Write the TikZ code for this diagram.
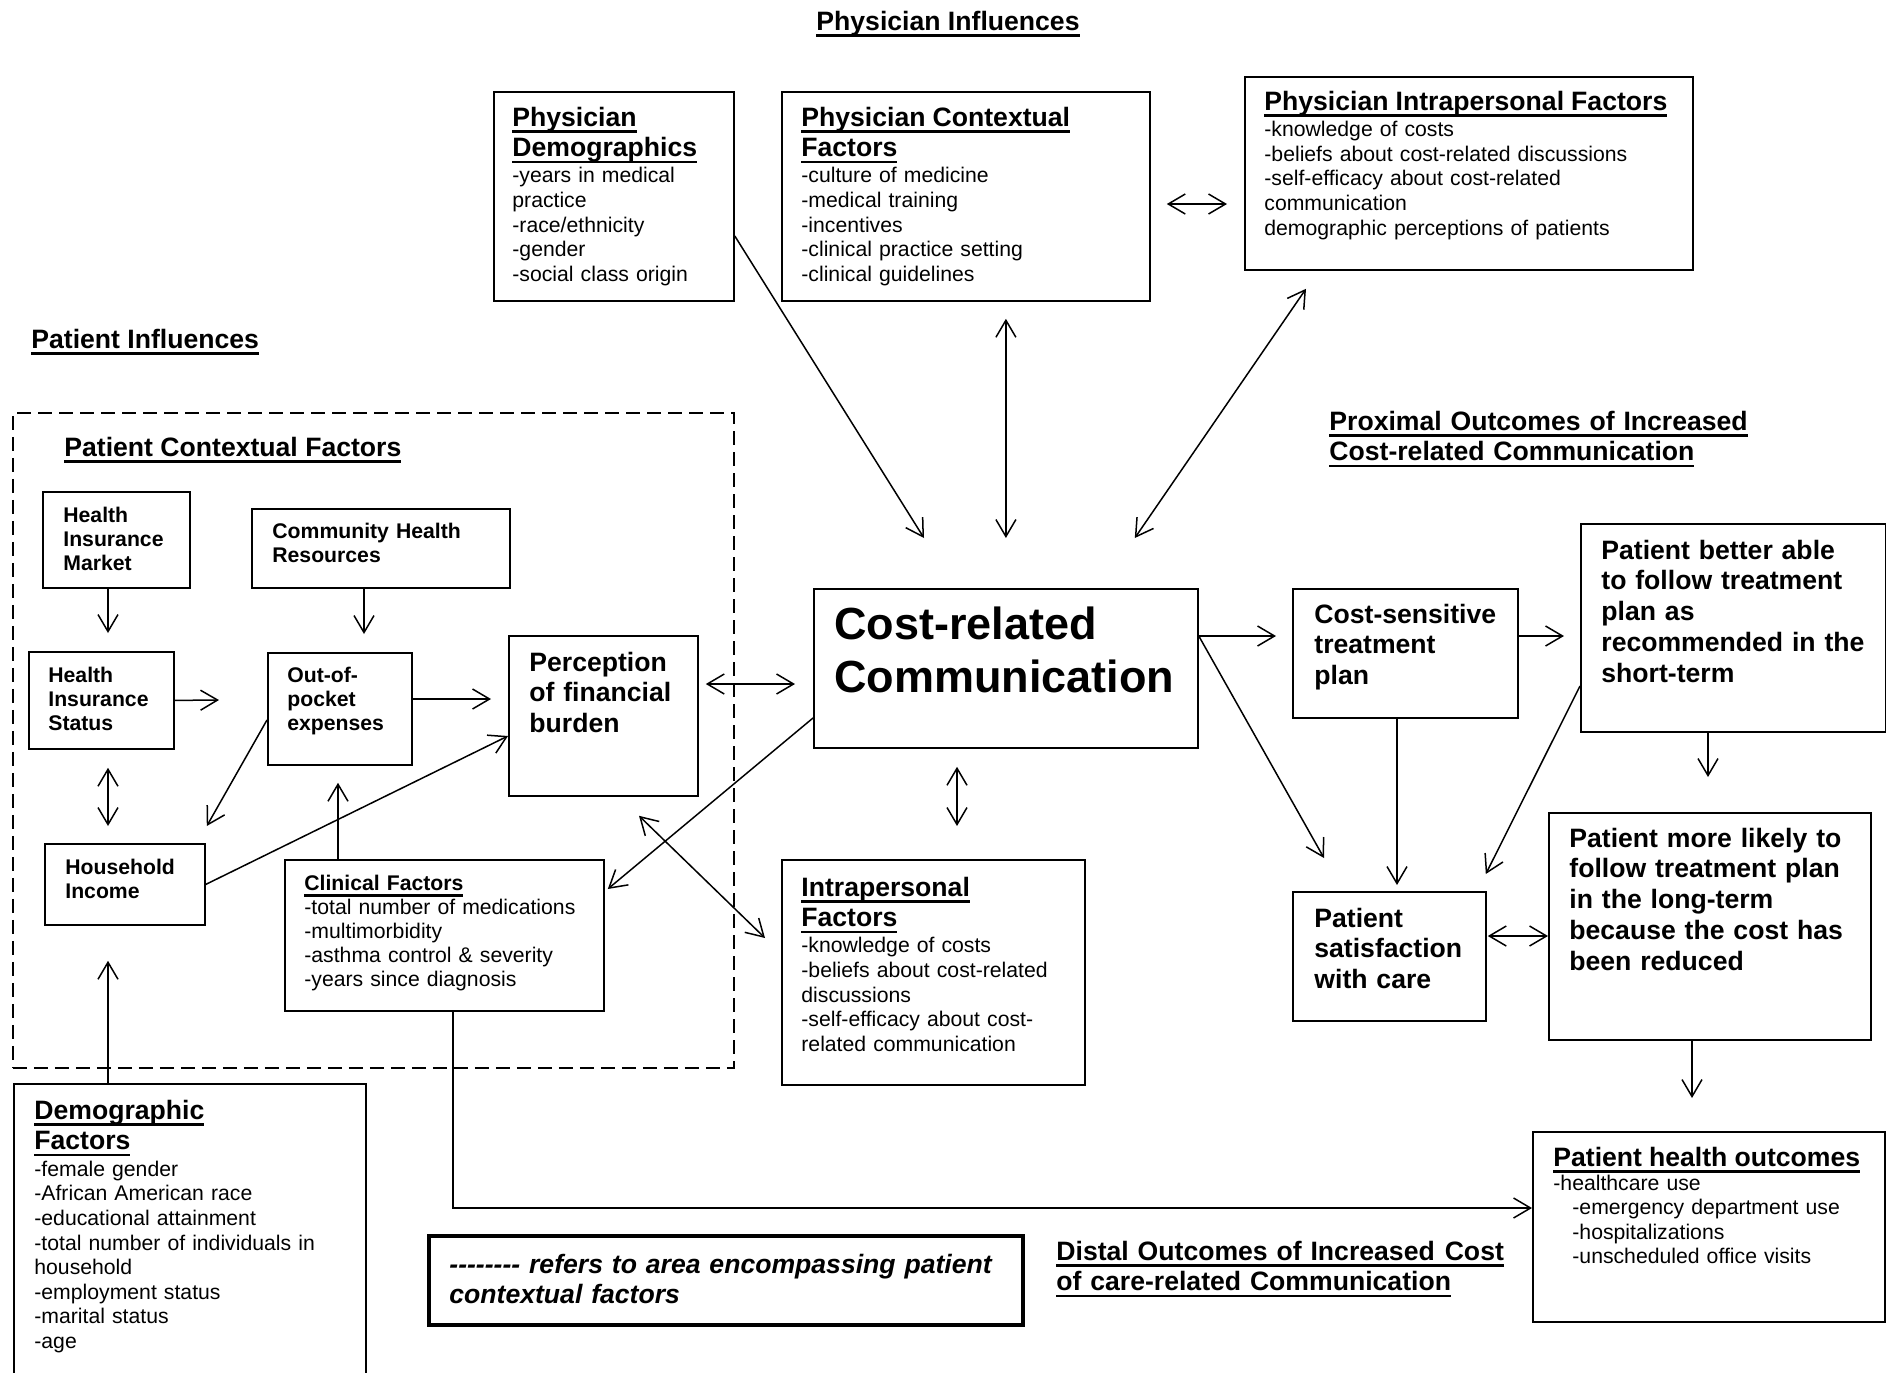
\documentclass[tikz,border=0pt]{standalone}
\usepackage{fontspec}
\setmainfont{Liberation Sans}
\usetikzlibrary{arrows.meta,calc}
\newsavebox\ulbox
\newcommand\ulin[1]{\leavevmode\sbox\ulbox{#1}\rlap{\rule[-3.4pt]{\wd\ulbox}{1.2pt}}\usebox\ulbox}
\newcommand\hdfnt{\fontsize{13.3}{15.1}\selectfont\bfseries}
\newcommand\bdfnt{\fontsize{10.6}{12.3}\selectfont}
\newcommand\sbfnt{\fontsize{10.6}{12.2}\selectfont\bfseries}
\newcommand\lbfnt{\fontsize{13.3}{15.4}\selectfont\bfseries}
\newcommand\crcfnt{\fontsize{22.5}{26.8}\selectfont\bfseries}
\begin{document}
\begin{tikzpicture}[x=0.5pt,y=-0.5pt,
    box/.style={draw, line width=0.9pt, anchor=north west, inner sep=0pt},
    txt/.style={anchor=base west, inner sep=0pt, align=left},
    arr/.style={-{Straight Barb[length=8.5pt,width=10pt]}, line width=0.75pt},
    dbl/.style={{Straight Barb[length=8.5pt,width=10pt]}-{Straight Barb[length=8.5pt,width=10pt]}, line width=0.75pt}]
    \clip (0,0) rectangle (1886,1372);

    % physician influences
    \node[anchor=base, inner sep=0pt, font=\hdfnt] (phinf) at (948,30) {\ulin{Physician Influences}};
    \node[box, minimum width=120pt, minimum height=104.5pt] (pdem) at (493,91) {};
    \node[txt, text width=108pt, font=\bdfnt] (pdem-t) at (512,126)
        {{\hdfnt\ulin{Physician}\\\ulin{Demographics}\par}\vspace{1pt}-years in medical\\practice\\-race/ethnicity\\-gender\\-social class origin};
    \node[box, minimum width=184pt, minimum height=104.5pt] (pcf) at (781,91) {};
    \node[txt, text width=172pt, font=\bdfnt] (pcf-t) at (801,126)
        {{\hdfnt\ulin{Physician Contextual}\\\ulin{Factors}\par}\vspace{1pt}-culture of medicine\\-medical training\\-incentives\\-clinical practice setting\\-clinical guidelines};
    \node[box, minimum width=224pt, minimum height=96.5pt] (pif) at (1244,76) {};
    \node[txt, text width=212pt, font=\bdfnt] (pif-t) at (1264,110)
        {{\hdfnt\ulin{Physician Intrapersonal Factors}\par}\vspace{1.05pt}-knowledge of costs\\-beliefs about cost-related discussions\\-self-efficacy about cost-related\\communication\\demographic perceptions of patients};

    % patient influences
    \node[txt, font=\hdfnt] (patinf) at (31,348) {\ulin{Patient Influences}};
    \node[box, dash pattern=on 7pt off 3.5pt, line width=0.75pt, minimum width=360.5pt, minimum height=327.5pt] (ctx) at (12,412) {};
    \node[txt, font=\hdfnt] (ctx-t) at (64,456) {\ulin{Patient Contextual Factors}};
    \node[box, minimum width=73.5pt, minimum height=48pt] (him) at (42,491) {};
    \node[txt, text width=61pt, font=\sbfnt] (him-t) at (63,522) {Health\\Insurance\\Market};
    \node[box, minimum width=129pt, minimum height=39.5pt] (chr) at (251,508) {};
    \node[txt, text width=116pt, font=\sbfnt] (chr-t) at (272,538) {Community Health\\Resources};
    \node[box, minimum width=72.5pt, minimum height=48.5pt] (his) at (28,651) {};
    \node[txt, text width=60pt, font=\sbfnt] (his-t) at (48,682) {Health\\Insurance\\Status};
    \node[box, minimum width=72pt, minimum height=56pt] (oop) at (267,652) {};
    \node[txt, text width=59pt, font=\sbfnt] (oop-t) at (287,682) {Out-of-\\pocket\\expenses};
    \node[box, minimum width=94.5pt, minimum height=80pt] (pfb) at (508,635) {};
    \node[txt, text width=81pt, font=\lbfnt] (pfb-t) at (529,671) {Perception\\of financial\\burden};
    \node[box, minimum width=80pt, minimum height=40.5pt] (hhi) at (44,843) {};
    \node[txt, text width=67pt, font=\sbfnt] (hhi-t) at (65,874) {Household\\Income};
    \node[box, minimum width=159.5pt, minimum height=75.5pt] (clin) at (284,859) {};
    \node[txt, text width=147pt, font=\fontsize{10.6}{12.1}\selectfont] (clin-t) at (304,890)
        {\textbf{\ulin{Clinical Factors}}\\-total number of medications\\-multimorbidity\\-asthma control \& severity\\-years since diagnosis};
    \node[box, minimum width=176pt, minimum height=160pt] (dem) at (13,1083) {};
    \node[txt, text width=163pt, font=\bdfnt] (dem-t) at (34,1119)
        {{\hdfnt\ulin{Demographic}\\\ulin{Factors}\par}\vspace{1.2pt}-female gender\\-African American race\\-educational attainment\\-total number of individuals in\\household\\-employment status\\-marital status\\-age};

    % centre
    \node[box, minimum width=192pt, minimum height=79.5pt] (crc) at (813,588) {};
    \node[txt, text width=180pt, font=\crcfnt] (crc-t) at (834,639) {Cost-related\\Communication};
    \node[box, minimum width=151.5pt, minimum height=112.5pt] (intra) at (781,859) {};
    \node[txt, text width=139pt, font=\bdfnt] (intra-t) at (801,896)
        {{\hdfnt\ulin{Intrapersonal}\\\ulin{Factors}\par}\vspace{1pt}-knowledge of costs\\-beliefs about cost-related\\discussions\\-self-efficacy about cost-\\related communication};

    % outcomes
    \node[txt, text width=250pt, font=\hdfnt] (prox) at (1329,430) {\ulin{Proximal Outcomes of Increased}\\\ulin{Cost-related Communication}};
    \node[box, minimum width=112.5pt, minimum height=64.5pt] (cst) at (1292,588) {};
    \node[txt, text width=100pt, font=\lbfnt] (cst-t) at (1314,623) {Cost-sensitive\\treatment\\plan};
    \node[box, minimum width=152.5pt, minimum height=104pt] (pba) at (1580,523) {};
    \node[txt, text width=140pt, font=\lbfnt] (pba-t) at (1601,559) {Patient better able\\to follow treatment\\plan as\\recommended in the\\short-term};
    \node[box, minimum width=96.5pt, minimum height=64.5pt] (psat) at (1292,891) {};
    \node[txt, text width=84pt, font=\lbfnt] (psat-t) at (1314,927) {Patient\\satisfaction\\with care};
    \node[box, minimum width=161pt, minimum height=113.5pt] (pml) at (1548,812) {};
    \node[txt, text width=148pt, font=\lbfnt] (pml-t) at (1569,847) {Patient more likely to\\follow treatment plan\\in the long-term\\because the cost has\\been reduced};
    \node[box, minimum width=176pt, minimum height=95pt] (pho) at (1532,1131) {};
    \node[txt, text width=163pt, font=\fontsize{10.6}{12.2}\selectfont] (pho-t) at (1553,1166)
        {{\hdfnt\ulin{Patient health outcomes}}\\-healthcare use\\\hspace*{9.5pt}-emergency department use\\\hspace*{9.5pt}-hospitalizations\\\hspace*{9.5pt}-unscheduled office visits};
    \node[txt, text width=250pt, font=\hdfnt] (distal) at (1056,1260) {\ulin{Distal Outcomes of Increased\hspace{5pt}Cost}\\\ulin{of care-related Communication}};

    % legend
    \node[box, line width=2pt, minimum width=297pt, minimum height=44.5pt] (leg) at (427,1234) {};
    \node[txt, text width=284pt, font=\hdfnt\itshape] (leg-t) at (449,1273) {-{}-{}-{}-{}-{}-{}-{}- refers to area encompassing patient\\contextual factors};

    % physician arrows
    \draw[arr] ($(pdem.north east)+(0,145)$) -- ($(crc.north west)+(111,-50)$);
    \draw[dbl] ($(crc.north |- pcf.south)+(0,17)$) -- ($(crc.north)+(0,-50)$);
    \draw[dbl] ($(pif.south west)+(62,18)$) -- ($(crc.north east)+(-64,-50)$);
    \draw[dbl] ($(pcf.north east)+(16,113)$) -- ($(pif.north west)+(-17,128)$);

    % patient arrows
    \draw[arr] ($(him.south west)+(66,0)$) -- ($(his.north west)+(80,-18)$);
    \draw[arr] ($(chr.south west)+(113,0)$) -- ($(oop.north west)+(97,-18)$);
    \draw[arr] (his.east) -- ($(oop.north west)+(-48,48)$);
    \draw[arr] ($(oop.north east)+(0,47)$) -- ($(pfb.north west)+(-17,64)$);
    \draw[dbl] ($(his.south west)+(80,18)$) -- ($(hhi.north west)+(64,-17)$);
    \draw[arr] ($(oop.north west)+(0,68)$) -- ($(hhi.north east)+(1,-17)$);
    \draw[arr] (hhi.east) -- ($(pfb.north west)+(0,101)$);
    \draw[arr] ($(clin.north west)+(54,0)$) -- ($(oop.south west)+(71,17)$);
    \draw[dbl] ($(pfb.north east)+(7,49)$) -- ($(crc.north west)+(-18,96)$);
    \draw[arr] ($(crc.north west)+(0,130)$) -- ($(clin.north east)+(3,30)$);
    \draw[dbl] ($(pfb.south west)+(131,19)$) -- ($(intra.north west)+(-16,79)$);
    \draw[dbl] ($(crc.south west)+(144,18)$) -- ($(intra.north west)+(176,-33)$);
    \draw[arr] ($(dem.north west)+(95,0)$) -- ($(hhi.south west)+(64,35)$);
    \draw[arr] ($(clin.south west)+(169,0)$) |- ($(pho.north west)+(0,77)$);

    % outcome arrows
    \draw[arr] ($(crc.north east)+(0,48)$) -- ($(cst.north west)+(-16,48)$);
    \draw[arr] ($(crc.north east)+(0,48)$) -- ($(psat.north west)+(32,-33)$);
    \draw[arr] ($(cst.north east)+(0,48)$) -- ($(pba.north west)+(-16,113)$);
    \draw[arr] ($(cst.south west)+(105,0)$) -- ($(psat.north west)+(105,-6)$);
    \draw[arr] ($(pba.north west)+(0,163)$) -- ($(psat.north east)+(-1,-17)$);
    \draw[arr] ($(pba.south west)+(128,0)$) -- ($(pml.north west)+(160,-35)$);
    \draw[dbl] ($(psat.north east)+(1,45)$) -- ($(pml.north west)+(0,124)$);
    \draw[arr] ($(pml.south west)+(144,0)$) -- ($(pho.north west)+(160,-33)$);
\end{tikzpicture}
\end{document}
